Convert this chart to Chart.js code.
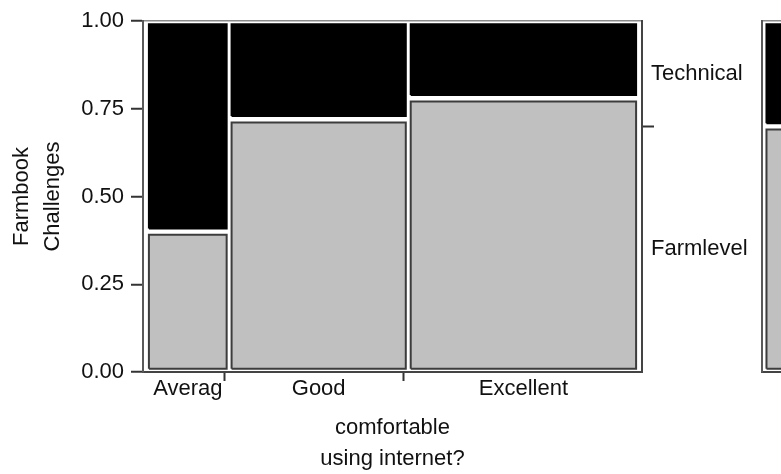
<!DOCTYPE html>
<html>
<head>
<meta charset="utf-8">
<script src="https://cdn.jsdelivr.net/npm/chart.js@4/dist/chart.umd.min.js"></script>
<style>
  html, body { margin: 0; padding: 0; background: #fff; overflow: hidden; width: 781px; height: 474px; }
  #main { position: absolute; left: 0; top: 0; }
  #side { position: absolute; left: 740px; top: 0; }
</style>
</head>
<body>
<canvas id="main" width="781" height="474"></canvas>
<canvas id="side" width="100" height="474"></canvas>
<script>
// Mosaic of farmbook challenges by how comfortable people are using the internet
const categories = ['Averag', 'Good', 'Excellent'];
const columnShare = [0.168, 0.364, 0.468];      // share of respondents in each group
const farmlevelShare = [0.40, 0.72, 0.78];      // Farmlevel share within each group
const overallFarmlevel = 0.70;                  // Farmlevel share over everyone
const challengeNames = ['Farmlevel', 'Technical'];
const yTicks = [0, 0.25, 0.5, 0.75, 1];

const FONT = { family: "'Liberation Sans', Arial, sans-serif", size: 22, lineHeight: 1.2 };
const TITLE_FONT = { family: "'Liberation Sans', Arial, sans-serif", size: 22, lineHeight: 1.4 };
const TEXT = '#111';
const FARM_FILL = '#c0c0c0', FARM_EDGE = '#3c3c3c';
const TECH_FILL = '#000000', TECH_EDGE = '#000000';
const X_PAD = 0.007;       // breathing room between the frame and the tiles
const INSET_X = 0.005;     // half of the white gap between tiles, horizontally
const INSET_Y = 0.009;     // half of the white gap between tiles, vertically
const TICK_NUDGE = -0.009; // boundary tick marks sit just left of the gap

// column edges and centres on the 0..1 horizontal scale
const edges = [0];
columnShare.forEach((w, i) => edges.push(edges[i] + w));
const centers = columnShare.map((w, i) => edges[i] + w / 2);
const boundaries = edges.slice(1, -1);

function tile(x0, x1, y0, y1, fill, edge) {
  const a = x0 + INSET_X, b = x1 - INSET_X, c = y0 + INSET_Y, d = y1 - INSET_Y;
  return {
    data: [{x: a, y: c}, {x: a, y: d}, {x: b, y: d}, {x: b, y: c}, {x: a, y: c}],
    showLine: true, fill: 'shape', tension: 0,
    backgroundColor: fill, borderColor: edge, borderWidth: 2, borderJoinStyle: 'miter',
    pointRadius: 0, pointHoverRadius: 0
  };
}

const mainSets = [];
categories.forEach((name, i) => {
  mainSets.push(tile(edges[i], edges[i + 1], 0, farmlevelShare[i], FARM_FILL, FARM_EDGE));
  mainSets.push(tile(edges[i], edges[i + 1], farmlevelShare[i], 1, TECH_FILL, TECH_EDGE));
});

// ticks on the bottom axis: labels at column centres, marks at column boundaries
const xTickValues = [];
centers.forEach((c, i) => {
  xTickValues.push(c);
  if (i < boundaries.length) xTickValues.push(boundaries[i] + TICK_NUDGE);
});

new Chart(document.getElementById('main'), {
  type: 'scatter',
  data: { datasets: mainSets },
  options: {
    responsive: false, animation: false, devicePixelRatio: 1,
    layout: { padding: { top: 21, left: 0, right: 0, bottom: 0 } },
    plugins: { legend: { display: false }, tooltip: { enabled: false } },
    scales: {
      x: {
        type: 'linear', position: 'bottom', min: -X_PAD, max: 1 + X_PAD,
        afterBuildTicks: s => { s.ticks = xTickValues.map(v => ({ value: v })); },
        afterFit: s => { s.height = 102; },
        ticks: {
          autoSkip: false, maxRotation: 0, font: FONT, color: TEXT, padding: -5,
          callback: (v, i) => (i % 2 === 0 ? categories[i / 2] : '')
        },
        grid: {
          drawOnChartArea: false, tickLength: 9, tickWidth: 2,
          tickColor: ctx => (ctx.index % 2 === 1 ? '#333' : 'rgba(0,0,0,0)')
        },
        border: { color: '#444', width: 2 },
        title: { display: true, text: ['comfortable', 'using internet?'], font: TITLE_FONT, color: TEXT, padding: 0 }
      },
      y: {
        type: 'linear', position: 'left', min: 0, max: 1,
        afterBuildTicks: s => { s.ticks = yTicks.map(v => ({ value: v })); },
        afterFit: s => { s.width = 143; },
        ticks: { font: FONT, color: TEXT, padding: 7, callback: v => Number(v).toFixed(2) },
        grid: {
          tickLength: 12, tickWidth: 2, tickColor: '#333', lineWidth: 1.5,
          color: ctx => (ctx.tick && ctx.tick.value === 1 ? '#8a8a8a' : 'rgba(0,0,0,0)')
        },
        border: { color: '#5a5a5a', width: 2 },
        title: { display: true, text: ['Farmbook', 'Challenges'], font: TITLE_FONT, color: TEXT, padding: { top: 7 } }
      },
      y2: {
        type: 'linear', position: 'right', min: 0, max: 1,
        afterBuildTicks: s => {
          s.ticks = [overallFarmlevel / 2, overallFarmlevel, (1 + overallFarmlevel) / 2].map(v => ({ value: v }));
        },
        afterFit: s => { s.width = 139; },
        ticks: {
          font: FONT, color: TEXT, padding: -3,
          callback: (v, i) => (i === 0 ? challengeNames[0] : i === 2 ? challengeNames[1] : '')
        },
        grid: {
          drawOnChartArea: false, tickLength: 12, tickWidth: 2,
          tickColor: ctx => (ctx.index === 1 ? '#333' : 'rgba(0,0,0,0)')
        },
        border: { color: '#444', width: 2 }
      }
    }
  }
});

// overall split, drawn as a single column to the right
new Chart(document.getElementById('side'), {
  type: 'scatter',
  data: {
    datasets: [
      tile(0, 1, 0, overallFarmlevel, FARM_FILL, FARM_EDGE),
      tile(0, 1, overallFarmlevel, 1, TECH_FILL, TECH_EDGE)
    ]
  },
  options: {
    responsive: false, animation: false, devicePixelRatio: 1,
    layout: { padding: { top: 21, left: 0, right: 10, bottom: 0 } },
    plugins: { legend: { display: false }, tooltip: { enabled: false } },
    scales: {
      x: {
        type: 'linear', min: -0.07, max: 1.07,
        afterFit: s => { s.height = 102; },
        ticks: { display: false },
        grid: { display: false },
        border: { color: '#444', width: 2 }
      },
      y: {
        type: 'linear', min: 0, max: 1,
        afterBuildTicks: s => { s.ticks = yTicks.map(v => ({ value: v })); },
        afterFit: s => { s.width = 22; },
        ticks: { display: false },
        grid: {
          drawTicks: false, lineWidth: 1.5,
          color: ctx => (ctx.tick && ctx.tick.value === 1 ? '#8a8a8a' : 'rgba(0,0,0,0)')
        },
        border: { color: '#5a5a5a', width: 2 }
      }
    }
  }
});
</script>
</body>
</html>
